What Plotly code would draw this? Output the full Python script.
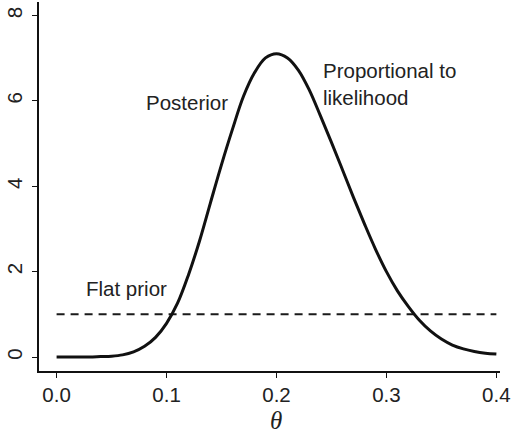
import plotly.graph_objects as go

# Posterior density over theta (flat prior => proportional to likelihood)
theta = [0.00, 0.01, 0.02, 0.03, 0.04, 0.05, 0.06, 0.07, 0.08, 0.09,
         0.10, 0.11, 0.12, 0.13, 0.14, 0.15, 0.16, 0.17, 0.18, 0.19,
         0.20, 0.21, 0.22, 0.23, 0.24, 0.25, 0.26, 0.27, 0.28, 0.29,
         0.30, 0.31, 0.32, 0.33, 0.34, 0.35, 0.36, 0.37, 0.38, 0.39, 0.40]
posterior = [0.00, 0.00, 0.00, 0.00, 0.01, 0.02, 0.05, 0.12, 0.25, 0.46,
             0.79, 1.26, 1.93, 2.72, 3.62, 4.51, 5.34, 6.11, 6.66, 7.01,
             7.11, 7.01, 6.72, 6.25, 5.65, 5.03, 4.39, 3.74, 3.12, 2.53,
             2.00, 1.55, 1.18, 0.86, 0.61, 0.42, 0.28, 0.19, 0.13, 0.09, 0.07]

# Flat prior on [0, 0.4]
prior_theta = [0.0, 0.4]
prior_density = [1.0, 1.0]

x_ticks = [0.0, 0.1, 0.2, 0.3, 0.4]
x_tick_labels = ["0.0", "0.1", "0.2", "0.3", "0.4"]
y_ticks = [0, 2, 4, 6, 8]

TEXT = "#222222"
FONT = "Liberation Sans, Arial, sans-serif"

fig = go.Figure()
fig.add_trace(go.Scatter(
    x=prior_theta, y=prior_density, mode="lines",
    line=dict(color="#1a1a1a", width=2, dash="8px,6px"),
    hoverinfo="skip", showlegend=False))
fig.add_trace(go.Scatter(
    x=theta, y=posterior, mode="lines",
    line=dict(color="#111111", width=3, shape="spline", smoothing=1),
    showlegend=False))

fig.add_annotation(x=0.1186, y=5.97, text="Posterior", showarrow=False,
                   font=dict(family=FONT, size=20.5, color=TEXT))
fig.add_annotation(x=0.2405, y=6.39, text="Proportional to<br>likelihood",
                   showarrow=False, xanchor="left", align="left",
                   font=dict(family=FONT, size=20.5, color=TEXT))
fig.add_annotation(x=0.0636, y=1.61, text="Flat prior", showarrow=False,
                   font=dict(family=FONT, size=20.5, color=TEXT))
fig.add_annotation(x=0.2, y=-0.135, xref="x", yref="paper", yanchor="middle",
                   text="<i>θ</i>", showarrow=False,
                   font=dict(family="Liberation Serif, Times New Roman, serif",
                             size=25, color=TEXT))

fig.update_layout(
    width=513, height=435,
    margin=dict(l=39, r=10, t=2, b=64),
    paper_bgcolor="white", plot_bgcolor="white",
    font=dict(family=FONT, size=21, color=TEXT),
)
fig.update_xaxes(
    range=[-0.016, 0.4033], tickvals=x_ticks, ticktext=x_tick_labels,
    showgrid=False, zeroline=False, showline=True, linecolor="#111111",
    linewidth=1.5, ticks="outside", ticklen=5, tickwidth=1.2,
    tickcolor="#111111", ticklabelstandoff=0, ticklabeloverflow="allow",
    tickfont=dict(family=FONT, size=20.5, color=TEXT))
fig.update_yaxes(
    range=[-0.328, 8.32], tickvals=y_ticks,
    showgrid=False, zeroline=False, showline=True, linecolor="#111111",
    linewidth=1.5, ticks="outside", ticklen=5, tickwidth=1.2,
    tickcolor="#111111", tickangle=-90, ticklabelstandoff=2,
    tickfont=dict(family=FONT, size=20.5, color=TEXT))

fig.write_html("out.html")
